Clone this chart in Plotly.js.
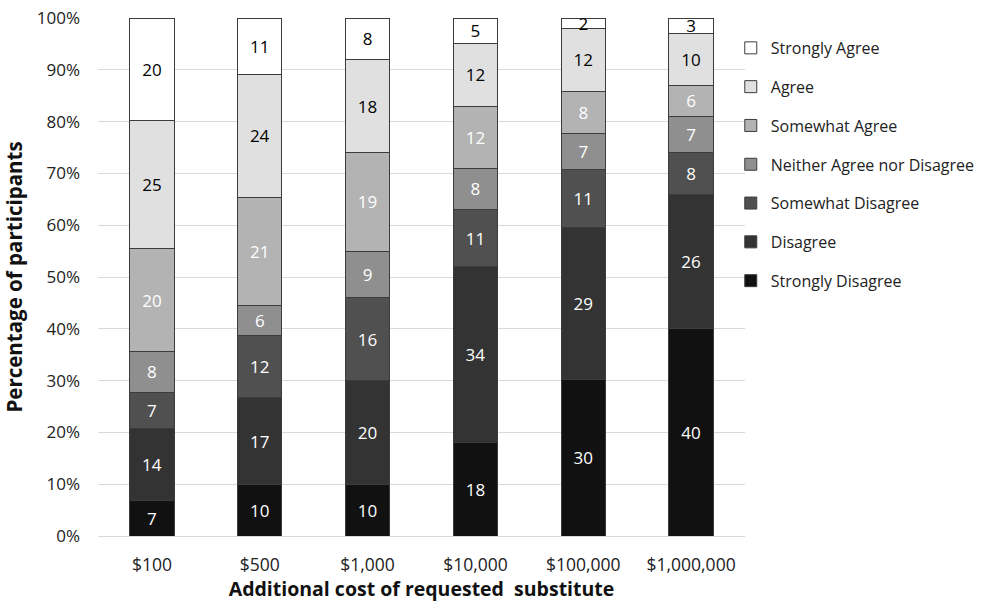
<!DOCTYPE html>
<html>
<head>
<meta charset="utf-8">
<script src="https://cdn.plot.ly/plotly-3.0.1.min.js"></script>
<style>html,body{margin:0;padding:0;background:#fff;}#chart{width:995px;height:602px;}</style>
</head>
<body>
<div id="chart"></div>
<script>
// Categories (x axis)
const costs = ["$100", "$500", "$1,000", "$10,000", "$100,000", "$1,000,000"];

// Percentages of participants per response (as labelled), bottom to top of stack
const stronglyDisagree = [7, 10, 10, 18, 30, 40];
const disagree         = [14, 17, 20, 34, 29, 26];
const somewhatDisagree = [7, 12, 16, 11, 11, 8];
const neither          = [8, 6, 9, 8, 7, 7];
const somewhatAgree    = [20, 21, 19, 12, 8, 6];
const agree            = [25, 24, 18, 12, 12, 10];
const stronglyAgree    = [20, 11, 8, 5, 2, 3];

const yTicks = [0, 10, 20, 30, 40, 50, 60, 70, 80, 90, 100];

const series = [
  {name: "Strongly Disagree", values: stronglyDisagree, color: "#111111", txt: "#ffffff"},
  {name: "Disagree", values: disagree, color: "#333333", txt: "#ffffff"},
  {name: "Somewhat Disagree", values: somewhatDisagree, color: "#505050", txt: "#ffffff"},
  {name: "Neither Agree nor Disagree", values: neither, color: "#8f8f8f", txt: "#ffffff"},
  {name: "Somewhat Agree", values: somewhatAgree, color: "#b3b3b3", txt: "#ffffff"},
  {name: "Agree", values: agree, color: "#e0e0e0", txt: "#000000"},
  {name: "Strongly Agree", values: stronglyAgree, color: "#ffffff", txt: "#000000"}
];

const FONT = "Open Sans, sans-serif";

const data = series.map((s, i) => ({
  type: "bar",
  name: s.name,
  legendgroup: s.name,
  legendrank: series.length - i,
  x: costs,
  y: s.values,
  text: s.values,
  texttemplate: "%{text}",
  textposition: "inside",
  insidetextanchor: "middle",
  textangle: 0,
  textfont: {family: FONT, size: 17, color: s.txt},
  marker: {color: s.color, line: {color: "#3c3c3c", width: 1}},
  hoverinfo: "none"
}));

const layout = {
  width: 995, height: 602,
  margin: {l: 98, r: 250, t: 18, b: 66},
  barmode: "stack",
  barnorm: "percent",
  bargap: 0.59,
  paper_bgcolor: "#ffffff",
  plot_bgcolor: "#ffffff",
  font: {family: FONT, size: 16, color: "#222222"},
  uniformtext: {minsize: 17, mode: "show"},
  showlegend: true,
  legend: {
    x: 0.978, xanchor: "left", y: 0.975, yanchor: "top",
    traceorder: "grouped",
    tracegroupgap: 15,
    borderwidth: 0,
    bgcolor: "rgba(0,0,0,0)",
    font: {family: FONT, size: 16, color: "#222222"},
    itemwidth: 30
  },
  xaxis: {
    type: "category",
    showgrid: false,
    showline: true, linecolor: "#d9d9d9", linewidth: 1,
    ticks: "",
    ticklabelstandoff: 13,
    tickfont: {family: FONT, size: 17.5, color: "#222222"},
    title: {text: "<b>Additional cost of requested  substitute</b>", font: {family: FONT, size: 19.5, color: "#111111"}, standoff: 6}
  },
  yaxis: {
    range: [0, 100],
    tickvals: yTicks,
    ticktext: yTicks.map(v => v + "%"),
    showgrid: true, gridcolor: "#d9d9d9", gridwidth: 1,
    zeroline: false,
    ticks: "",
    ticklabelstandoff: 17,
    tickfont: {family: FONT, size: 17, color: "#222222"},
    title: {text: "<b>Percentage of participants</b>", font: {family: FONT, size: 20.5, color: "#111111"}, standoff: 10}
  }
};

Plotly.newPlot("chart", data, layout, {displayModeBar: false, staticPlot: true});
</script>
</body>
</html>
